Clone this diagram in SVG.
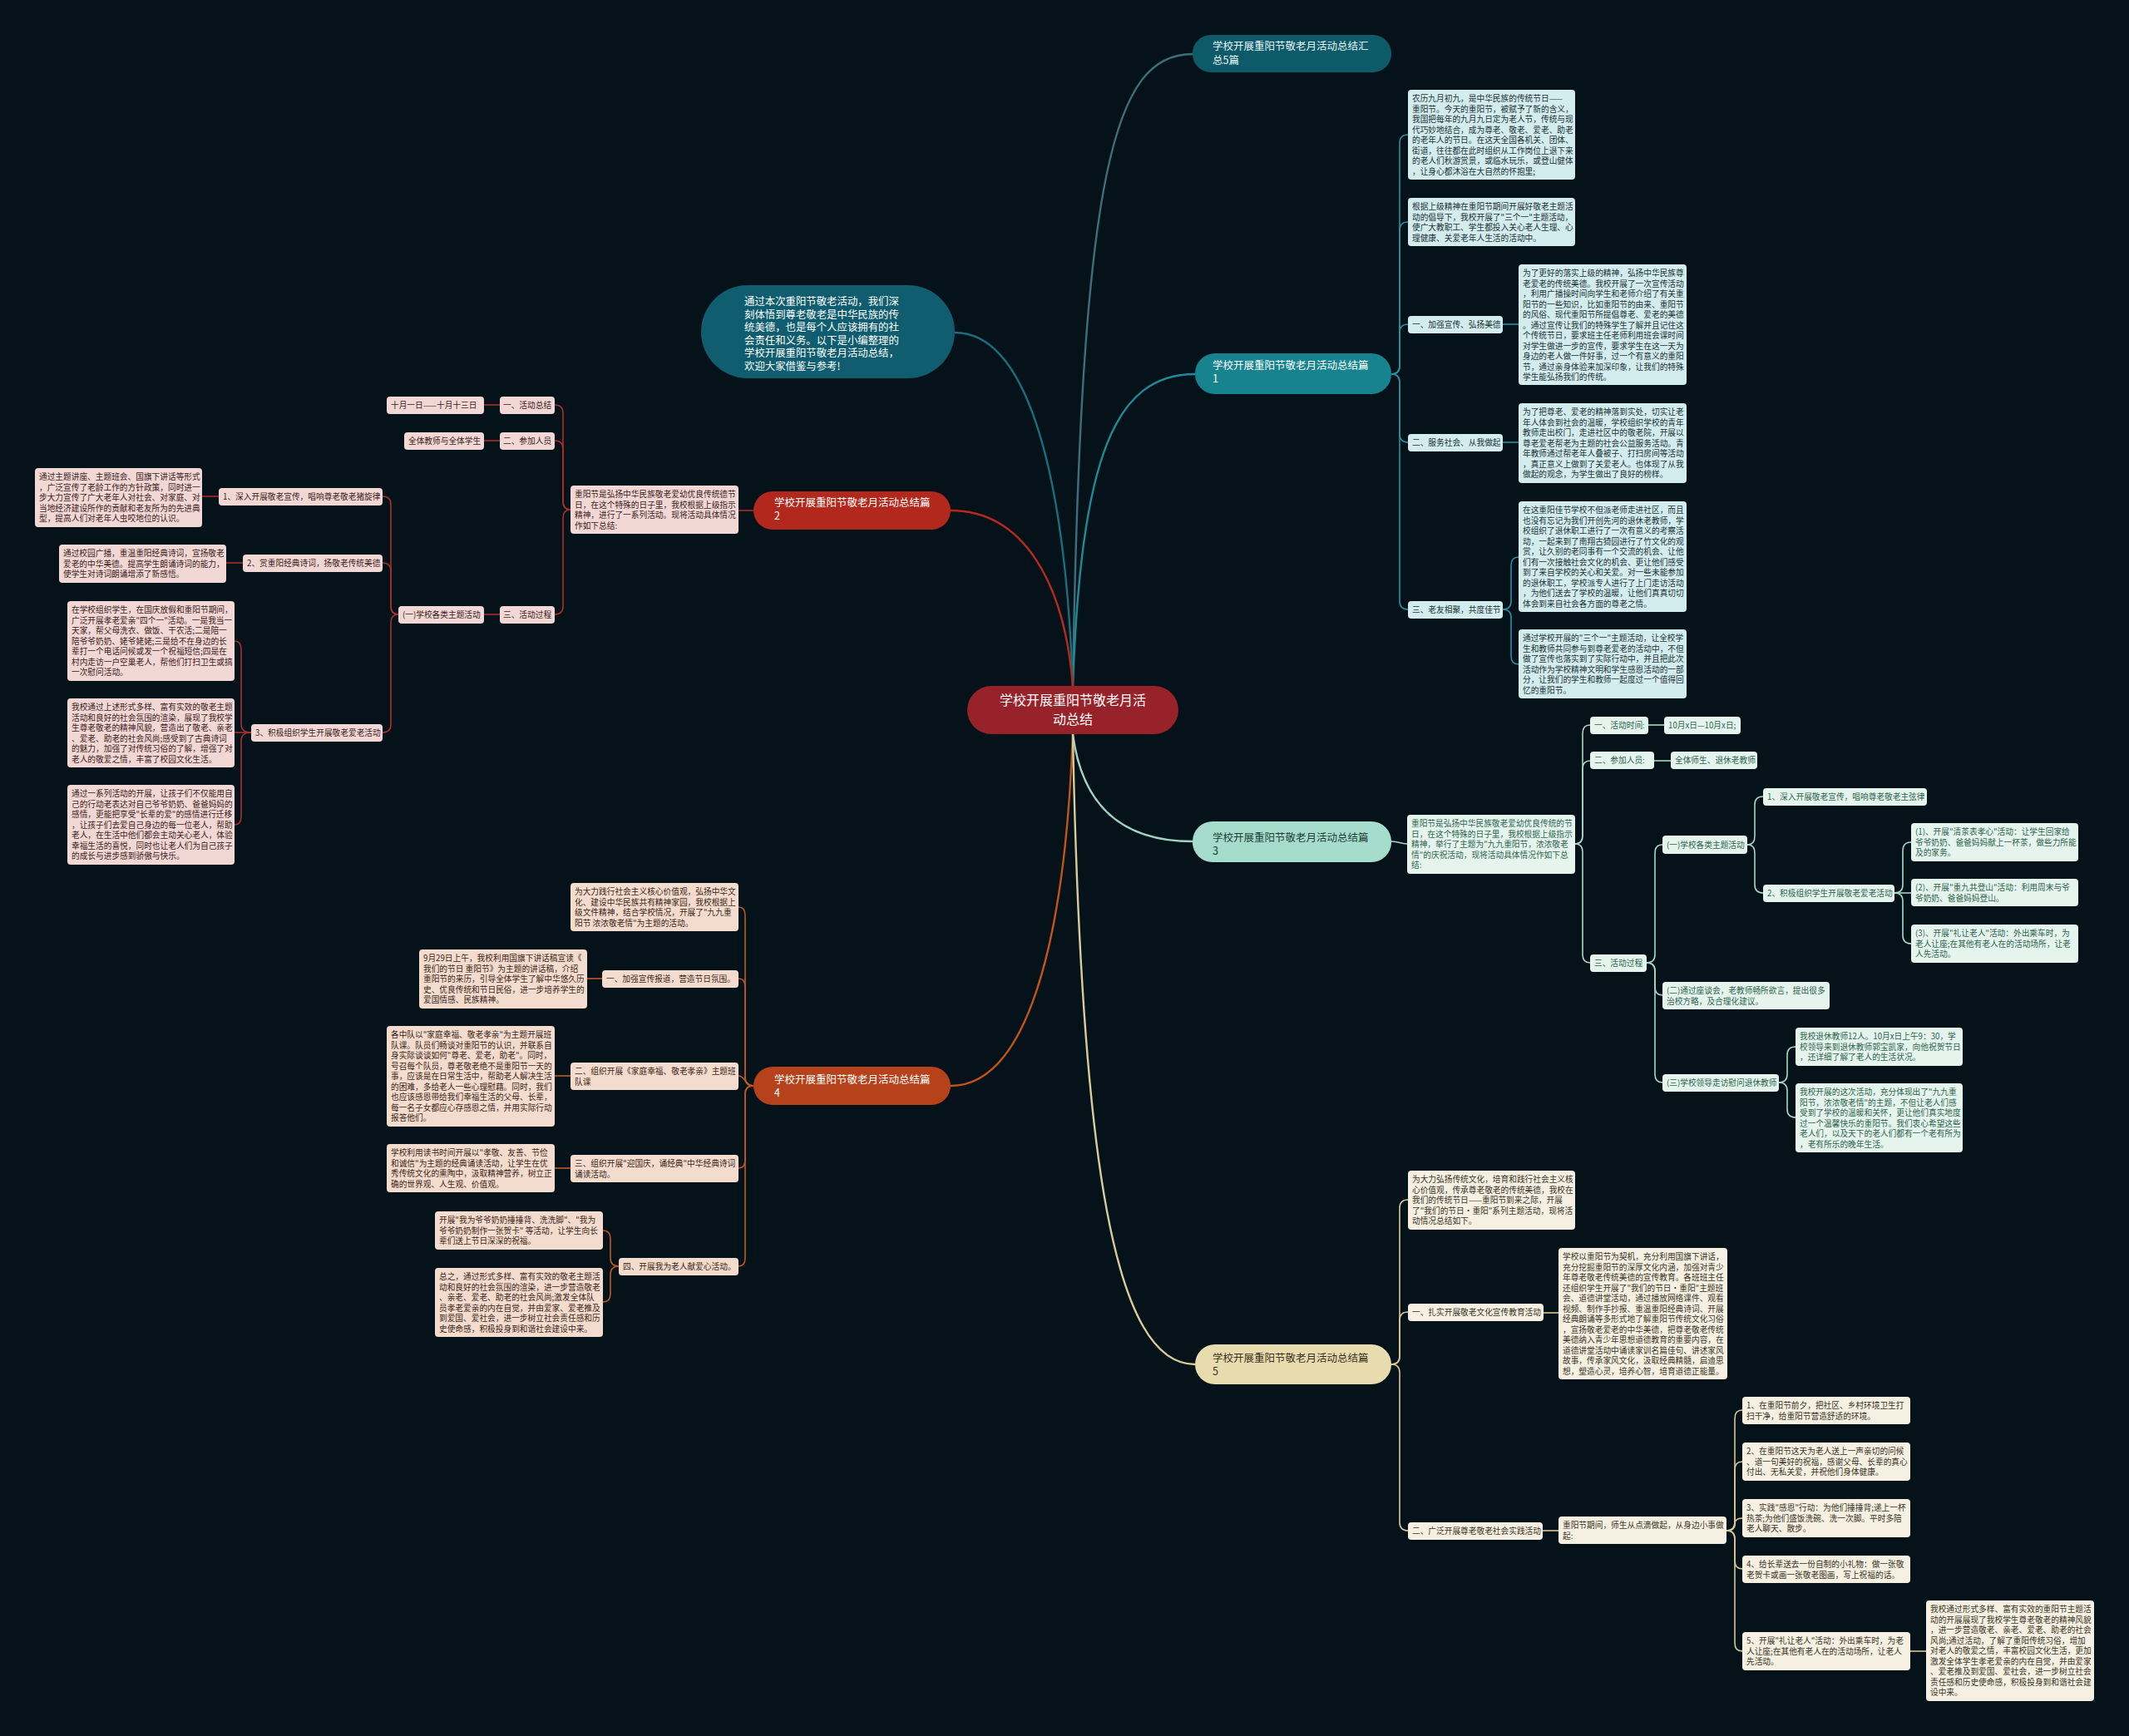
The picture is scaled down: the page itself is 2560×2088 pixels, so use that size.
<svg xmlns="http://www.w3.org/2000/svg" width="2560" height="2088" viewBox="0 0 2560 2088">
<style>
text{font-family:"Noto Sans CJK SC","Noto Sans",sans-serif}
.s{font-size:9.7px}
.br{font-size:12.5px}
.c1 rect{fill:#d3ecee}.c1 text{fill:#1c3336}
.c3 rect{fill:#e5f4ed}.c3 text{fill:#2f6550}
.c5 rect{fill:#f5f0e2}.c5 text{fill:#3b3426}
.c2 rect{fill:#f2d8d5}.c2 text{fill:#3d2222}
.c4 rect{fill:#f3dccd}.c4 text{fill:#3d2619}
#connectors path{fill:none}
.m path{stroke-width:2.4}
.l1 path{stroke:#2a8f99;stroke-width:1.6}
.l3 path{stroke:#a6d8c5;stroke-width:1.6}
.l5 path{stroke:#d6c995;stroke-width:1.6}
.l2 path{stroke:#a8302a;stroke-width:1.6}
.l4 path{stroke:#bb5a22;stroke-width:1.6}
</style>
<rect x="0" y="0" width="2560" height="2088" fill="#06121a"/>

<g id="connectors">
 <g class="m">
  <path d="M1290,825 C1300,200 1340,65 1434,65" stroke="#3d6f78"/>
  <path d="M1290,825 C1300,550 1340,450 1437,450" stroke="#1f8a96"/>
  <path d="M1290,825 C1280,550 1230,400 1148,400" stroke="#1a6d7c"/>
  <path d="M1290,825 C1280,700 1230,614 1143,614" stroke="#b52a1f"/>
  <path d="M1290,883 C1300,960 1340,1012 1434,1012" stroke="#9fd4c4"/>
  <path d="M1290,883 C1280,1150 1230,1306 1143,1306" stroke="#c0541a"/>
  <path d="M1290,883 C1300,1400 1340,1641 1437,1641" stroke="#d9cc98"/>
 </g>
 <g class="l1">
  <path d="M1673,450 Q1683,450 1683,440 V172 Q1683,162 1693,162"/>
  <path d="M1673,450 Q1683,450 1683,440 V277 Q1683,267 1693,267"/>
  <path d="M1673,450 Q1683,450 1683,440 V400 Q1683,390 1693,390"/>
  <path d="M1673,450 Q1683,450 1683,460 V522 Q1683,532 1693,532"/>
  <path d="M1673,450 Q1683,450 1683,460 V723 Q1683,733 1693,733"/>
  <path d="M1807,390 H1826"/>
  <path d="M1807,532 H1826"/>
  <path d="M1807,733 Q1817,733 1817,723 V680 Q1817,670 1826,670"/>
  <path d="M1807,733 Q1817,733 1817,743 V789 Q1817,799 1826,799"/>
 </g>
 <g class="l3">
  <path d="M1673,1012 C1683,1012 1683,1015 1692,1015"/>
  <path d="M1894,1015 Q1903,1015 1903,1005 V882 Q1903,872 1912,872"/>
  <path d="M1894,1015 Q1903,1015 1903,1005 V925 Q1903,915 1912,915"/>
  <path d="M1894,1015 Q1903,1015 1903,1025 V1148 Q1903,1158 1912,1158"/>
  <path d="M1982,872 H2001"/>
  <path d="M1989,915 H2009"/>
  <path d="M1980,1158 Q1990,1158 1990,1148 V1026 Q1990,1016 1999,1016"/>
  <path d="M1980,1158 Q1990,1158 1990,1168 V1187 Q1990,1197 1999,1197"/>
  <path d="M1980,1158 Q1990,1158 1990,1168 V1292 Q1990,1302 1999,1302"/>
  <path d="M2101,1016 Q2110,1016 2110,1006 V968 Q2110,958 2120,958"/>
  <path d="M2101,1016 Q2110,1016 2110,1026 V1064 Q2110,1074 2120,1074"/>
  <path d="M2278,1074 Q2288,1074 2288,1064 V1023 Q2288,1013 2298,1013"/>
  <path d="M2278,1074 H2298"/>
  <path d="M2278,1074 Q2288,1074 2288,1084 V1125 Q2288,1135 2298,1135"/>
  <path d="M2139,1302 Q2149,1302 2149,1292 V1269 Q2149,1259 2159,1259"/>
  <path d="M2139,1302 Q2149,1302 2149,1312 V1334 Q2149,1344 2159,1344"/>
 </g>
 <g class="l5">
  <path d="M1673,1641 Q1683,1641 1683,1631 V1453 Q1683,1443 1693,1443"/>
  <path d="M1673,1641 Q1683,1641 1683,1631 V1588 Q1683,1578 1693,1578"/>
  <path d="M1673,1641 Q1683,1641 1683,1651 V1831 Q1683,1841 1693,1841"/>
  <path d="M1856,1579 H1874"/>
  <path d="M1855,1841 H1874"/>
  <path d="M2076,1841 Q2086,1841 2086,1831 V1706 Q2086,1696 2095,1696"/>
  <path d="M2076,1841 Q2086,1841 2086,1831 V1768 Q2086,1758 2095,1758"/>
  <path d="M2076,1841 Q2086,1841 2086,1834 V1833 Q2086,1826 2095,1826"/>
  <path d="M2076,1841 Q2086,1841 2086,1851 V1877 Q2086,1887 2095,1887"/>
  <path d="M2076,1841 Q2086,1841 2086,1851 V1976 Q2086,1986 2095,1986"/>
  <path d="M2297,1986 H2316"/>
 </g>
 <g class="l2">
  <path d="M906,614 H888"/>
  <path d="M686,613 Q677,613 677,603 V497 Q677,487 667,487"/>
  <path d="M686,613 Q677,613 677,603 V540 Q677,530 667,530"/>
  <path d="M686,613 Q677,613 677,623 V729 Q677,739 667,739"/>
  <path d="M601,487 H582"/>
  <path d="M601,530 H582"/>
  <path d="M601,739 H582"/>
  <path d="M479,739 Q470,739 470,729 V607 Q470,597 460,597"/>
  <path d="M479,739 Q470,739 470,729 V687 Q470,677 460,677"/>
  <path d="M479,739 Q470,739 470,749 V871 Q470,881 460,881"/>
  <path d="M263,597 H243"/>
  <path d="M292,677 H272"/>
  <path d="M302,881 Q290,881 290,871 V781 Q290,771 282,771"/>
  <path d="M302,881 H282"/>
  <path d="M302,881 Q290,881 290,891 V982 Q290,992 282,992"/>
 </g>
 <g class="l4">
  <path d="M906,1306 Q896,1306 896,1296 V1101 Q896,1091 888,1091"/>
  <path d="M906,1306 Q896,1306 896,1296 V1187 Q896,1177 888,1177"/>
  <path d="M906,1306 C896,1306 896,1294 888,1294"/>
  <path d="M906,1306 Q896,1306 896,1316 V1395 Q896,1405 888,1405"/>
  <path d="M906,1306 Q896,1306 896,1316 V1513 Q896,1523 888,1523"/>
  <path d="M724,1177 H706"/>
  <path d="M686,1294 H667"/>
  <path d="M686,1405 H667"/>
  <path d="M744,1523 Q734,1523 734,1513 V1490 Q734,1480 725,1480"/>
  <path d="M744,1523 Q734,1523 734,1533 V1556 Q734,1566 725,1566"/>
 </g>
</g>

<g id="center">
 <rect x="1163" y="825" width="254" height="58" rx="29" fill="#982229"/>
 <text x="1290" y="848" font-size="16" fill="#ffffff" text-anchor="middle">学校开展重阳节敬老月活<tspan x="1290" dy="23">动总结</tspan></text>
</g>

<g id="intro">
 <rect x="843" y="343" width="305" height="112" rx="56" fill="#0f5d6e"/>
 <text x="895" y="367" font-size="12.4" fill="#ffffff">通过本次重阳节敬老活动，我们深<tspan x="895" dy="15.5">刻体悟到尊老敬老是中华民族的传</tspan><tspan x="895" dy="15.5">统美德，也是每个人应该拥有的社</tspan><tspan x="895" dy="15.5">会责任和义务。以下是小编整理的</tspan><tspan x="895" dy="15.5">学校开展重阳节敬老月活动总结，</tspan><tspan x="895" dy="15.5">欢迎大家借鉴与参考!</tspan></text>
</g>

<g id="b0">
 <rect x="1434" y="42" width="239" height="45" rx="22" fill="#0d5a69"/>
 <text class="br" x="1458" y="60" fill="#e8f4f5">学校开展重阳节敬老月活动总结汇<tspan x="1458" dy="16.5">总5篇</tspan></text>
</g>
<g id="b1">
 <rect x="1437" y="425" width="236" height="49" rx="24" fill="#16838e"/>
 <text class="br" x="1458" y="443.5" fill="#ffffff">学校开展重阳节敬老月活动总结篇<tspan x="1458" dy="16.5">1</tspan></text>
</g>
<g id="b3">
 <rect x="1434" y="988" width="239" height="49" rx="24" fill="#a6dccb"/>
 <text class="br" x="1458" y="1011.5" fill="#1f3f36">学校开展重阳节敬老月活动总结篇<tspan x="1458" dy="16.5">3</tspan></text>
</g>
<g id="b5">
 <rect x="1437" y="1617" width="236" height="48" rx="24" fill="#e8dcae"/>
 <text class="br" x="1458" y="1637.5" fill="#3a3020">学校开展重阳节敬老月活动总结篇<tspan x="1458" dy="16.5">5</tspan></text>
</g>
<g id="b2">
 <rect x="906" y="591" width="237" height="46" rx="23" fill="#b3281c"/>
 <text class="br" x="931" y="608.5" fill="#ffffff">学校开展重阳节敬老月活动总结篇<tspan x="931" dy="16.5">2</tspan></text>
</g>
<g id="b4">
 <rect x="906" y="1283" width="237" height="46" rx="23" fill="#b5421a"/>
 <text class="br" x="931" y="1302.5" fill="#ffffff">学校开展重阳节敬老月活动总结篇<tspan x="931" dy="16.5">4</tspan></text>
</g>

<!-- Branch 1 -->
<g id="n1_1" class="c1"><rect x="1693" y="108" width="201" height="108" rx="4"/>
<text class="s" x="1698" y="122">农历九月初九，是中华民族的传统节日——<tspan x="1698" dy="12.5">重阳节。今天的重阳节，被赋予了新的含义，</tspan><tspan x="1698" dy="12.5">我国把每年的九月九日定为老人节，传统与现</tspan><tspan x="1698" dy="12.5">代巧妙地结合，成为尊老、敬老、爱老、助老</tspan><tspan x="1698" dy="12.5">的老年人的节日。在这天全国各机关、团体、</tspan><tspan x="1698" dy="12.5">街道，往往都在此时组织从工作岗位上退下来</tspan><tspan x="1698" dy="12.5">的老人们秋游赏景，或临水玩乐，或登山健体</tspan><tspan x="1698" dy="12.5">，让身心都沐浴在大自然的怀抱里;</tspan></text></g>
<g id="n1_2" class="c1"><rect x="1693" y="238" width="201" height="58" rx="4"/>
<text class="s" x="1698" y="252">根据上级精神在重阳节期间开展好敬老主题活<tspan x="1698" dy="12.5">动的倡导下，我校开展了"三个一"主题活动，</tspan><tspan x="1698" dy="12.5">使广大教职工、学生都投入关心老人生理、心</tspan><tspan x="1698" dy="12.5">理健康、关爱老年人生活的活动中。</tspan></text></g>
<g id="n1_l1" class="c1"><rect x="1693" y="380" width="114" height="21" rx="4"/>
<text class="s" x="1698" y="394">一、加强宣传、弘扬美德</text></g>
<g id="n1_3" class="c1"><rect x="1826" y="318" width="202" height="145" rx="4"/>
<text class="s" x="1831" y="332">为了更好的落实上级的精神，弘扬中华民族尊<tspan x="1831" dy="12.5">老爱老的传统美德。我校开展了一次宣传活动</tspan><tspan x="1831" dy="12.5">，利用广播操时间向学生和老师介绍了有关重</tspan><tspan x="1831" dy="12.5">阳节的一些知识，比如重阳节的由来、重阳节</tspan><tspan x="1831" dy="12.5">的风俗、现代重阳节所提倡尊老、爱老的美德</tspan><tspan x="1831" dy="12.5">。通过宣传让我们的特殊学生了解并且记住这</tspan><tspan x="1831" dy="12.5">个传统节日，要求班主任老师利用班会课时间</tspan><tspan x="1831" dy="12.5">对学生做进一步的宣传，要求学生在这一天为</tspan><tspan x="1831" dy="12.5">身边的老人做一件好事，过一个有意义的重阳</tspan><tspan x="1831" dy="12.5">节，通过亲身体验来加深印象，让我们的特殊</tspan><tspan x="1831" dy="12.5">学生能弘扬我们的传统。</tspan></text></g>
<g id="n1_l2" class="c1"><rect x="1693" y="522" width="114" height="21" rx="4"/>
<text class="s" x="1698" y="536">二、服务社会、从我做起</text></g>
<g id="n1_4" class="c1"><rect x="1826" y="485" width="202" height="96" rx="4"/>
<text class="s" x="1831" y="499">为了把尊老、爱老的精神落到实处，切实让老<tspan x="1831" dy="12.5">年人体会到社会的温暖，学校组织学校的青年</tspan><tspan x="1831" dy="12.5">教师走出校门，走进社区中的敬老院，开展以</tspan><tspan x="1831" dy="12.5">尊老爱老帮老为主题的社会公益服务活动。青</tspan><tspan x="1831" dy="12.5">年教师通过帮老年人叠被子、打扫房间等活动</tspan><tspan x="1831" dy="12.5">，真正意义上做到了关爱老人。也体现了从我</tspan><tspan x="1831" dy="12.5">做起的观念，为学生做出了良好的榜样。</tspan></text></g>
<g id="n1_l3" class="c1"><rect x="1693" y="723" width="114" height="21" rx="4"/>
<text class="s" x="1698" y="737">三、老友相聚，共度佳节</text></g>
<g id="n1_5" class="c1"><rect x="1826" y="603" width="202" height="133" rx="4"/>
<text class="s" x="1831" y="617">在这重阳佳节学校不但派老师走进社区，而且<tspan x="1831" dy="12.5">也没有忘记为我们开创先河的退休老教师，学</tspan><tspan x="1831" dy="12.5">校组织了退休职工进行了一次有意义的考察活</tspan><tspan x="1831" dy="12.5">动，一起来到了南翔古猗园进行了竹文化的观</tspan><tspan x="1831" dy="12.5">赏，让久别的老同事有一个交流的机会、让他</tspan><tspan x="1831" dy="12.5">们有一次接触社会文化的机会、更让他们感受</tspan><tspan x="1831" dy="12.5">到了来自学校的关心和关爱。对一些未能参加</tspan><tspan x="1831" dy="12.5">的退休职工，学校派专人进行了上门走访活动</tspan><tspan x="1831" dy="12.5">，为他们送去了学校的温暖，让他们真真切切</tspan><tspan x="1831" dy="12.5">体会到来自社会各方面的尊老之情。</tspan></text></g>
<g id="n1_6" class="c1"><rect x="1826" y="757" width="202" height="83" rx="4"/>
<text class="s" x="1831" y="771">通过学校开展的"三个一"主题活动，让全校学<tspan x="1831" dy="12.5">生和教师共同参与到尊老爱老的活动中，不但</tspan><tspan x="1831" dy="12.5">做了宣传也落实到了实际行动中，并且把此次</tspan><tspan x="1831" dy="12.5">活动作为学校精神文明和学生感恩活动的一部</tspan><tspan x="1831" dy="12.5">分，让我们的学生和教师一起度过一个值得回</tspan><tspan x="1831" dy="12.5">忆的重阳节。</tspan></text></g>

<!-- Branch 3 -->
<g id="n3_0" class="c3"><rect x="1692" y="980" width="202" height="71" rx="4"/>
<text class="s" x="1697" y="994">重阳节是弘扬中华民族敬老爱幼优良传统的节<tspan x="1697" dy="12.5">日，在这个特殊的日子里，我校根据上级指示</tspan><tspan x="1697" dy="12.5">精神，举行了主题为"九九重阳节，浓浓敬老</tspan><tspan x="1697" dy="12.5">情"的庆祝活动，现将活动具体情况作如下总</tspan><tspan x="1697" dy="12.5">结:</tspan></text></g>
<g id="n3_a" class="c3"><rect x="1912" y="862" width="70" height="21" rx="4"/>
<text class="s" x="1917" y="876">一、活动时间:</text></g>
<g id="n3_b" class="c3"><rect x="2001" y="862" width="92" height="21" rx="4"/>
<text class="s" x="2006" y="876">10月x日—10月x日;</text></g>
<g id="n3_c" class="c3"><rect x="1912" y="904" width="77" height="21" rx="4"/>
<text class="s" x="1917" y="918">二、参加人员:</text></g>
<g id="n3_d" class="c3"><rect x="2009" y="904" width="104" height="21" rx="4"/>
<text class="s" x="2014" y="918">全体师生、退休老教师</text></g>
<g id="n3_e" class="c3"><rect x="1912" y="1148" width="68" height="21" rx="4"/>
<text class="s" x="1917" y="1162">三、活动过程</text></g>
<g id="n3_f" class="c3"><rect x="1999" y="1005" width="102" height="22" rx="4"/>
<text class="s" x="2004" y="1019.5">(一)学校各类主题活动</text></g>
<g id="n3_g" class="c3"><rect x="2120" y="948" width="197" height="21" rx="4"/>
<text class="s" x="2125" y="962">1、深入开展敬老宣传，唱响尊老敬老主弦律</text></g>
<g id="n3_h" class="c3"><rect x="2120" y="1064" width="158" height="21" rx="4"/>
<text class="s" x="2125" y="1078">2、积极组织学生开展敬老爱老活动</text></g>
<g id="n3_i" class="c3"><rect x="2298" y="990" width="201" height="46" rx="4"/>
<text class="s" x="2303" y="1004">(1)、开展"清茶表孝心"活动：让学生回家给<tspan x="2303" dy="12.5">爷爷奶奶、爸爸妈妈献上一杯茶，做些力所能</tspan><tspan x="2303" dy="12.5">及的家务。</tspan></text></g>
<g id="n3_j" class="c3"><rect x="2298" y="1057" width="201" height="33" rx="4"/>
<text class="s" x="2303" y="1071">(2)、开展"重九共登山"活动：利用周末与爷<tspan x="2303" dy="12.5">爷奶奶、爸爸妈妈登山。</tspan></text></g>
<g id="n3_k" class="c3"><rect x="2298" y="1112" width="201" height="46" rx="4"/>
<text class="s" x="2303" y="1126">(3)、开展"礼让老人"活动：外出乘车时，为<tspan x="2303" dy="12.5">老人让座;在其他有老人在的活动场所，让老</tspan><tspan x="2303" dy="12.5">人先活动。</tspan></text></g>
<g id="n3_l" class="c3"><rect x="1999" y="1181" width="201" height="33" rx="4"/>
<text class="s" x="2004" y="1195">(二)通过座谈会，老教师畅所欲言，提出很多<tspan x="2004" dy="12.5">治校方略，及合理化建议。</tspan></text></g>
<g id="n3_m" class="c3"><rect x="1999" y="1292" width="140" height="21" rx="4"/>
<text class="s" x="2004" y="1306">(三)学校领导走访慰问退休教师</text></g>
<g id="n3_n" class="c3"><rect x="2159" y="1236" width="201" height="46" rx="4"/>
<text class="s" x="2164" y="1250">我校退休教师12人。10月x日上午9：30，学<tspan x="2164" dy="12.5">校领导来到退休教师郭宝凯家，向他祝贺节日</tspan><tspan x="2164" dy="12.5">，还详细了解了老人的生活状况。</tspan></text></g>
<g id="n3_o" class="c3"><rect x="2159" y="1303" width="201" height="83" rx="4"/>
<text class="s" x="2164" y="1317">我校开展的这次活动，充分体现出了"九九重<tspan x="2164" dy="12.5">阳节，浓浓敬老情"的主题，不但让老人们感</tspan><tspan x="2164" dy="12.5">受到了学校的温暖和关怀，更让他们真实地度</tspan><tspan x="2164" dy="12.5">过一个温馨快乐的重阳节。我们衷心希望这些</tspan><tspan x="2164" dy="12.5">老人们，以及天下的老人们都有一个老有所为</tspan><tspan x="2164" dy="12.5">，老有所乐的晚年生活。</tspan></text></g>

<!-- Branch 5 -->
<g id="n5_0" class="c5"><rect x="1693" y="1408" width="201" height="71" rx="4"/>
<text class="s" x="1698" y="1422">为大力弘扬传统文化，培育和践行社会主义核<tspan x="1698" dy="12.5">心价值观，传承尊老敬老的传统美德，我校在</tspan><tspan x="1698" dy="12.5">我们的传统节日——重阳节到来之际，开展</tspan><tspan x="1698" dy="12.5">了"我们的节日·重阳"系列主题活动，现将活</tspan><tspan x="1698" dy="12.5">动情况总结如下。</tspan></text></g>
<g id="n5_a" class="c5"><rect x="1693" y="1568" width="163" height="21" rx="4"/>
<text class="s" x="1698" y="1582">一、扎实开展敬老文化宣传教育活动</text></g>
<g id="n5_b" class="c5"><rect x="1874" y="1501" width="203" height="158" rx="4"/>
<text class="s" x="1879" y="1515">学校以重阳节为契机，充分利用国旗下讲话，<tspan x="1879" dy="12.5">充分挖掘重阳节的深厚文化内涵，加强对青少</tspan><tspan x="1879" dy="12.5">年尊老敬老传统美德的宣传教育。各班班主任</tspan><tspan x="1879" dy="12.5">还组织学生开展了"我们的节日·重阳"主题班</tspan><tspan x="1879" dy="12.5">会、道德讲堂活动，通过播放网络课件、观看</tspan><tspan x="1879" dy="12.5">视频、制作手抄报、重温重阳经典诗词、开展</tspan><tspan x="1879" dy="12.5">经典朗诵等多形式地了解重阳节传统文化习俗</tspan><tspan x="1879" dy="12.5">，宣扬敬老爱老的中华美德，把尊老敬老传统</tspan><tspan x="1879" dy="12.5">美德纳入青少年思想道德教育的重要内容，在</tspan><tspan x="1879" dy="12.5">道德讲堂活动中诵读家训名篇佳句、讲述家风</tspan><tspan x="1879" dy="12.5">故事，传承家风文化，汲取经典精髓，启迪思</tspan><tspan x="1879" dy="12.5">想，塑造心灵，培养心智，培育道德正能量。</tspan></text></g>
<g id="n5_c" class="c5"><rect x="1693" y="1831" width="162" height="21" rx="4"/>
<text class="s" x="1698" y="1845">二、广泛开展尊老敬老社会实践活动</text></g>
<g id="n5_d" class="c5"><rect x="1874" y="1824" width="202" height="33" rx="4"/>
<text class="s" x="1879" y="1838">重阳节期间，师生从点滴做起，从身边小事做<tspan x="1879" dy="12.5">起:</tspan></text></g>
<g id="n5_1" class="c5"><rect x="2095" y="1680" width="202" height="33" rx="4"/>
<text class="s" x="2100" y="1694">1、在重阳节前夕，把社区、乡村环境卫生打<tspan x="2100" dy="12.5">扫干净，给重阳节营造舒适的环境。</tspan></text></g>
<g id="n5_2" class="c5"><rect x="2095" y="1735" width="202" height="46" rx="4"/>
<text class="s" x="2100" y="1749">2、在重阳节这天为老人送上一声亲切的问候<tspan x="2100" dy="12.5">、道一句美好的祝福，感谢父母、长辈的真心</tspan><tspan x="2100" dy="12.5">付出、无私关爱，并祝他们身体健康。</tspan></text></g>
<g id="n5_3" class="c5"><rect x="2095" y="1803" width="202" height="46" rx="4"/>
<text class="s" x="2100" y="1817">3、实践"感恩"行动：为他们捶捶背;递上一杯<tspan x="2100" dy="12.5">热茶;为他们盛饭洗碗、洗一次脚。平时多陪</tspan><tspan x="2100" dy="12.5">老人聊天、散步。</tspan></text></g>
<g id="n5_4" class="c5"><rect x="2095" y="1871" width="202" height="33" rx="4"/>
<text class="s" x="2100" y="1885">4、给长辈送去一份自制的小礼物：做一张敬<tspan x="2100" dy="12.5">老贺卡或画一张敬老图画，写上祝福的话。</tspan></text></g>
<g id="n5_5" class="c5"><rect x="2095" y="1963" width="202" height="46" rx="4"/>
<text class="s" x="2100" y="1977">5、开展"礼让老人"活动：外出乘车时，为老<tspan x="2100" dy="12.5">人让座;在其他有老人在的活动场所，让老人</tspan><tspan x="2100" dy="12.5">先活动。</tspan></text></g>
<g id="n5_6" class="c5"><rect x="2316" y="1925" width="202" height="121" rx="4"/>
<text class="s" x="2321" y="1939">我校通过形式多样、富有实效的重阳节主题活<tspan x="2321" dy="12.5">动的开展展现了我校学生尊老敬老的精神风貌</tspan><tspan x="2321" dy="12.5">，进一步营造敬老、亲老、爱老、助老的社会</tspan><tspan x="2321" dy="12.5">风尚;通过活动，了解了重阳传统习俗，增加</tspan><tspan x="2321" dy="12.5">对老人的敬爱之情，丰富校园文化生活，更加</tspan><tspan x="2321" dy="12.5">激发全体学生孝老爱亲的内在自觉，并由爱家</tspan><tspan x="2321" dy="12.5">、爱老推及到爱国、爱社会，进一步树立社会</tspan><tspan x="2321" dy="12.5">责任感和历史使命感，积极投身到和谐社会建</tspan><tspan x="2321" dy="12.5">设中来。</tspan></text></g>

<!-- Branch 2 -->
<g id="n2_0" class="c2"><rect x="686" y="584" width="202" height="58" rx="4"/>
<text class="s" x="691" y="598">重阳节是弘扬中华民族敬老爱幼优良传统德节<tspan x="691" dy="12.5">日，在这个特殊的日子里，我校根据上级指示</tspan><tspan x="691" dy="12.5">精神，进行了一系列活动。现将活动具体情况</tspan><tspan x="691" dy="12.5">作如下总结:</tspan></text></g>
<g id="n2_a" class="c2"><rect x="601" y="477" width="66" height="21" rx="4"/>
<text class="s" x="605" y="491">一、活动总结</text></g>
<g id="n2_b" class="c2"><rect x="465" y="477" width="117" height="21" rx="4"/>
<text class="s" x="470" y="491">十月一日——十月十三日</text></g>
<g id="n2_c" class="c2"><rect x="601" y="520" width="66" height="21" rx="4"/>
<text class="s" x="605" y="534">二、参加人员</text></g>
<g id="n2_d" class="c2"><rect x="486" y="520" width="96" height="21" rx="4"/>
<text class="s" x="491" y="534">全体教师与全体学生</text></g>
<g id="n2_e" class="c2"><rect x="601" y="729" width="66" height="21" rx="4"/>
<text class="s" x="605" y="743">三、活动过程</text></g>
<g id="n2_f" class="c2"><rect x="479" y="729" width="103" height="21" rx="4"/>
<text class="s" x="484" y="743">(一)学校各类主题活动</text></g>
<g id="n2_g" class="c2"><rect x="263" y="587" width="197" height="21" rx="4"/>
<text class="s" x="268" y="601">1、深入开展敬老宣传，唱响尊老敬老猪旋律</text></g>
<g id="n2_h" class="c2"><rect x="42" y="563" width="201" height="71" rx="4"/>
<text class="s" x="47" y="577">通过主题讲座、主题班会、国旗下讲话等形式<tspan x="47" dy="12.5">，广泛宣传了老龄工作的方针政策，同时进一</tspan><tspan x="47" dy="12.5">步大力宣传了广大老年人对社会、对家庭、对</tspan><tspan x="47" dy="12.5">当地经济建设所作的贡献和老友所为的先进典</tspan><tspan x="47" dy="12.5">型，提高人们对老年人虫咬地位的认识。</tspan></text></g>
<g id="n2_i" class="c2"><rect x="292" y="667" width="168" height="21" rx="4"/>
<text class="s" x="297" y="681">2、赏重阳经典诗词，扬敬老传统美德</text></g>
<g id="n2_j" class="c2"><rect x="71" y="655" width="201" height="46" rx="4"/>
<text class="s" x="76" y="669">通过校园广播，重温重阳经典诗词，宣扬敬老<tspan x="76" dy="12.5">爱老的中华美德。提高学生朗诵诗词的能力，</tspan><tspan x="76" dy="12.5">使学生对诗词朗诵增添了新感悟。</tspan></text></g>
<g id="n2_k" class="c2"><rect x="302" y="871" width="158" height="21" rx="4"/>
<text class="s" x="307" y="885">3、积极组织学生开展敬老爱老活动</text></g>
<g id="n2_l" class="c2"><rect x="81" y="723" width="201" height="96" rx="4"/>
<text class="s" x="86" y="737">在学校组织学生，在国庆放假和重阳节期间，<tspan x="86" dy="12.5">广泛开展孝老爱亲"四个一"活动。一是我当一</tspan><tspan x="86" dy="12.5">天家，帮父母洗衣、做饭、干农活;二是陪一</tspan><tspan x="86" dy="12.5">陪爷爷奶奶、姥爷姥姥;三是给不在身边的长</tspan><tspan x="86" dy="12.5">辈打一个电话问候或发一个祝福短信;四是在</tspan><tspan x="86" dy="12.5">村内走访一户空巢老人，帮他们打扫卫生或搞</tspan><tspan x="86" dy="12.5">一次慰问活动。</tspan></text></g>
<g id="n2_m" class="c2"><rect x="81" y="840" width="201" height="83" rx="4"/>
<text class="s" x="86" y="854">我校通过上述形式多样、富有实效的敬老主题<tspan x="86" dy="12.5">活动和良好的社会氛围的渲染，展现了我校学</tspan><tspan x="86" dy="12.5">生尊老敬老的精神风貌，营造出了敬老、亲老</tspan><tspan x="86" dy="12.5">、爱老、助老的社会风尚;感受到了古典诗词</tspan><tspan x="86" dy="12.5">的魅力，加强了对传统习俗的了解，增强了对</tspan><tspan x="86" dy="12.5">老人的敬爱之情，丰富了校园文化生活。</tspan></text></g>
<g id="n2_n" class="c2"><rect x="81" y="944" width="201" height="96" rx="4"/>
<text class="s" x="86" y="958">通过一系列活动的开展，让孩子们不仅能用自<tspan x="86" dy="12.5">己的行动老表达对自己爷爷奶奶、爸爸妈妈的</tspan><tspan x="86" dy="12.5">感情，更能把享受"长辈的爱"的感情进行迁移</tspan><tspan x="86" dy="12.5">，让孩子们去爱自己身边的每一位老人，帮助</tspan><tspan x="86" dy="12.5">老人，在生活中他们都会主动关心老人，体验</tspan><tspan x="86" dy="12.5">幸福生活的喜悦，同时也让老人们为自己孩子</tspan><tspan x="86" dy="12.5">的成长与进步感到骄傲与快乐。</tspan></text></g>

<!-- Branch 4 -->
<g id="n4_0" class="c4"><rect x="686" y="1062" width="202" height="58" rx="4"/>
<text class="s" x="691" y="1076">为大力践行社会主义核心价值观，弘扬中华文<tspan x="691" dy="12.5">化、建设中华民族共有精神家园，我校根据上</tspan><tspan x="691" dy="12.5">级文件精神，结合学校情况，开展了"九九重</tspan><tspan x="691" dy="12.5">阳节 浓浓敬老情"为主题的活动。</tspan></text></g>
<g id="n4_a" class="c4"><rect x="724" y="1167" width="164" height="21" rx="4"/>
<text class="s" x="729" y="1181">一、加强宣传报道，营造节日氛围。</text></g>
<g id="n4_b" class="c4"><rect x="504" y="1142" width="202" height="71" rx="4"/>
<text class="s" x="509" y="1156">9月29日上午，我校利用国旗下讲话稿宣读《<tspan x="509" dy="12.5">我们的节日 重阳节》为主题的讲话稿，介绍</tspan><tspan x="509" dy="12.5">重阳节的来历，引导全体学生了解中华悠久历</tspan><tspan x="509" dy="12.5">史、优良传统和节日民俗，进一步培养学生的</tspan><tspan x="509" dy="12.5">爱国情感、民族精神。</tspan></text></g>
<g id="n4_c" class="c4"><rect x="686" y="1278" width="202" height="33" rx="4"/>
<text class="s" x="691" y="1292">二、组织开展《家庭幸福、敬老孝亲》主题班<tspan x="691" dy="12.5">队课</tspan></text></g>
<g id="n4_d" class="c4"><rect x="465" y="1234" width="202" height="121" rx="4"/>
<text class="s" x="470" y="1248">各中队以"家庭幸福、敬老孝亲"为主题开展班<tspan x="470" dy="12.5">队课。队员们畅谈对重阳节的认识，并联系自</tspan><tspan x="470" dy="12.5">身实际谈谈如何"尊老、爱老，助老"。同时，</tspan><tspan x="470" dy="12.5">号召每个队员，尊老敬老绝不是重阳节一天的</tspan><tspan x="470" dy="12.5">事，应该是在日常生活中，帮助老人解决生活</tspan><tspan x="470" dy="12.5">的困难，多给老人一些心理慰藉。同时，我们</tspan><tspan x="470" dy="12.5">也应该感恩带给我们幸福生活的父母、长辈，</tspan><tspan x="470" dy="12.5">每一名子女都应心存感恩之情，并用实际行动</tspan><tspan x="470" dy="12.5">报答他们。</tspan></text></g>
<g id="n4_e" class="c4"><rect x="686" y="1389" width="202" height="33" rx="4"/>
<text class="s" x="691" y="1403">三、组织开展"迎国庆，诵经典"中华经典诗词<tspan x="691" dy="12.5">诵读活动。</tspan></text></g>
<g id="n4_f" class="c4"><rect x="465" y="1376" width="202" height="58" rx="4"/>
<text class="s" x="470" y="1390">学校利用读书时间开展以"孝敬、友善、节俭<tspan x="470" dy="12.5">和诚信"为主题的经典诵读活动，让学生在优</tspan><tspan x="470" dy="12.5">秀传统文化的熏陶中，汲取精神营养，树立正</tspan><tspan x="470" dy="12.5">确的世界观、人生观、价值观。</tspan></text></g>
<g id="n4_g" class="c4"><rect x="744" y="1513" width="144" height="21" rx="4"/>
<text class="s" x="749" y="1527">四、开展我为老人献爱心活动。</text></g>
<g id="n4_h" class="c4"><rect x="523" y="1457" width="202" height="46" rx="4"/>
<text class="s" x="528" y="1471">开展"我为爷爷奶奶捶捶背、洗洗脚"、"我为<tspan x="528" dy="12.5">爷爷奶奶制作一张贺卡" 等活动，让学生向长</tspan><tspan x="528" dy="12.5">辈们送上节日深深的祝福。</tspan></text></g>
<g id="n4_i" class="c4"><rect x="523" y="1525" width="202" height="83" rx="4"/>
<text class="s" x="528" y="1539">总之，通过形式多样、富有实效的敬老主题活<tspan x="528" dy="12.5">动和良好的社会氛围的渲染，进一步营造敬老</tspan><tspan x="528" dy="12.5">、亲老、爱老、助老的社会风尚;激发全体队</tspan><tspan x="528" dy="12.5">员孝老爱亲的内在自觉，并由爱家、爱老推及</tspan><tspan x="528" dy="12.5">到爱国、爱社会，进一步树立社会责任感和历</tspan><tspan x="528" dy="12.5">史使命感，积极投身到和谐社会建设中来。</tspan></text></g>
</svg>
